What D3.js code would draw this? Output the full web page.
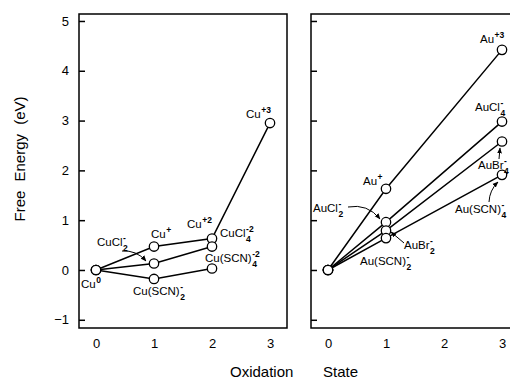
<!DOCTYPE html>
<html>
<head>
<meta charset="utf-8">
<script src="https://cdn.jsdelivr.net/npm/d3@7"></script>
<style>
  body { margin: 0; background: #fff; }
  text { font-family: "Liberation Sans", Arial, sans-serif; fill: #000; }
</style>
</head>
<body>
<div id="grafico"></div>
<script>
// Datos: estados de oxidación y energías libres (eV)
var cuStates = [0, 1, 2, 3];
var cuFree = [0, 0.47, 0.63, 2.95];
var cuClStates = [0, 1, 2];
var cuClFree = [0, 0.13, 0.47];
var cuScnStates = [0, 1, 2];
var cuScnFree = [0, -0.18, 0.03];

var auStates = [0, 1, 3];
var auFree = [0, 1.63, 4.42];
var auClFree = [0, 0.96, 2.98];
var auBrFree = [0, 0.79, 2.58];
var auScnFree = [0, 0.64, 1.91];

var yTicks = [-1, 0, 1, 2, 3, 4, 5];
var xTicks = [0, 1, 2, 3];

var width = 510, height = 389;

var svg = d3.select("#grafico").append("svg")
    .attr("width", width)
    .attr("height", height);

svg.append("defs").append("marker")
    .attr("id", "flecha")
    .attr("viewBox", "0 0 10 10")
    .attr("refX", 9).attr("refY", 5)
    .attr("markerWidth", 6).attr("markerHeight", 6)
    .attr("orient", "auto")
    .append("path")
    .attr("d", "M0,1L10,5L0,9Z")
    .attr("fill", "#000");

// Escalas
var y = d3.scaleLinear().domain([-1.165, 5.14]).range([328, 14]);
var xL = d3.scaleLinear().domain([-0.293, 3.293]).range([79, 287]);
var xR = d3.scaleLinear().domain([-0.293, 3.293]).range([311, 519]);

function panel(x, labels) {
    var g = svg.append("g");
    var yAxis = d3.axisLeft(y).tickValues(yTicks).tickSize(-6).tickPadding(10)
        .tickFormat(labels ? d3.format("d") : "");
    g.append("g").attr("transform", "translate(" + x.range()[0] + ",0)")
        .call(yAxis)
        .call(function(s) {
            s.select(".domain").remove();
            s.selectAll("line").attr("stroke-width", 1.5);
            s.selectAll("text").style("font-size", "13px")
                .style("font-family", "Liberation Sans, Arial, sans-serif");
        });
    g.append("g").attr("transform", "translate(0,328)")
        .call(d3.axisBottom(x).tickValues(xTicks).tickSize(0).tickPadding(11).tickFormat(d3.format("d")))
        .call(function(s) {
            s.select(".domain").remove();
            s.selectAll("text").style("font-size", "13px")
                .style("font-family", "Liberation Sans, Arial, sans-serif");
        });
    g.append("rect")
        .attr("x", x.range()[0]).attr("y", 14)
        .attr("width", x.range()[1] - x.range()[0]).attr("height", 314)
        .attr("fill", "none").attr("stroke", "#000").attr("stroke-width", 1.5);
    return g;
}

var gL = panel(xL, true);
var gR = panel(xR, false);

function serie(g, x, states, values) {
    var pts = states.map(function(s, i) { return [s, values[i]]; });
    var line = d3.line().x(function(d) { return x(d[0]); }).y(function(d) { return y(d[1]); });
    g.append("path").attr("d", line(pts))
        .attr("fill", "none").attr("stroke", "#000").attr("stroke-width", 1.5);
    return pts;
}

var allL = [];
allL = allL.concat(serie(gL, xL, cuStates, cuFree));
allL = allL.concat(serie(gL, xL, cuClStates, cuClFree));
allL = allL.concat(serie(gL, xL, cuScnStates, cuScnFree));

var allR = [];
allR = allR.concat(serie(gR, xR, auStates, auFree));
allR = allR.concat(serie(gR, xR, auStates, auClFree));
allR = allR.concat(serie(gR, xR, auStates, auBrFree));
allR = allR.concat(serie(gR, xR, auStates, auScnFree));

function puntos(g, x, pts) {
    g.selectAll(null).data(pts).enter().append("circle")
        .attr("cx", function(d) { return x(d[0]); })
        .attr("cy", function(d) { return y(d[1]); })
        .attr("r", 4.7)
        .attr("fill", "#fff").attr("stroke", "#000").attr("stroke-width", 1.3);
}
puntos(gL, xL, allL);
puntos(gR, xR, allR);

// Etiquetas químicas con subíndice y superíndice apilados
function etiqueta(px, py, base, sub, sup) {
    var t = svg.append("text").attr("x", px).attr("y", py)
        .style("font-size", "11.5px").text(base);
    var w = t.node().getComputedTextLength();
    if (sup) svg.append("text").attr("x", px + w + 0.5).attr("y", py - 5)
        .style("font-size", "8.5px").style("font-weight", "bold").text(sup);
    if (sub) svg.append("text").attr("x", px + w + 0.5).attr("y", py + 5)
        .style("font-size", "8.5px").style("font-weight", "bold").text(sub);
}

function flecha(x1, y1, x2, y2, bend) {
    var mx = (x1 + x2) / 2, my = (y1 + y2) / 2;
    var dx = x2 - x1, dy = y2 - y1;
    var cx = mx - dy * bend, cy = my + dx * bend;
    svg.append("path")
        .attr("d", "M" + x1 + "," + y1 + "Q" + cx + "," + cy + " " + x2 + "," + y2)
        .attr("fill", "none").attr("stroke", "#000").attr("stroke-width", 1)
        .attr("marker-end", "url(#flecha)");
}

etiqueta(81, 288, "Cu", null, "0");
etiqueta(151, 238, "Cu", null, "+");
etiqueta(97, 246, "CuCl", "2", "-");
flecha(122, 251, 146, 261, -0.25);
etiqueta(133, 295, "Cu(SCN)", "2", "-");
etiqueta(187, 228, "Cu", null, "+2");
etiqueta(220, 237, "CuCl", "4", "-2");
etiqueta(205, 262, "Cu(SCN)", "4", "-2");
etiqueta(246, 118, "Cu", null, "+3");

etiqueta(363, 185, "Au", null, "+");
etiqueta(480, 43, "Au", null, "+3");
etiqueta(475, 111, "AuCl", "4", "-");
etiqueta(478, 169, "AuBr", "4", "-");
flecha(499, 159, 500, 148, 0);
etiqueta(455, 213, "Au(SCN)", "4", "-");
flecha(489, 202, 498, 182, -0.2);
etiqueta(313, 212, "AuCl", "2", "-");
flecha(348, 207, 380, 219, -0.3);
etiqueta(404, 249, "AuBr", "2", "-");
flecha(404, 243, 391, 232, 0);
etiqueta(360, 265, "Au(SCN)", "2", "-");

// Títulos de ejes
svg.append("text").attr("x", 230).attr("y", 377)
    .style("font-size", "15px").text("Oxidation");
svg.append("text").attr("x", 323).attr("y", 377)
    .style("font-size", "15px").text("State");

svg.append("text")
    .attr("transform", "translate(25,159) rotate(-90)")
    .attr("text-anchor", "middle")
    .style("font-size", "15px").style("word-spacing", "5px")
    .text("Free Energy (eV)");
</script>
</body>
</html>
